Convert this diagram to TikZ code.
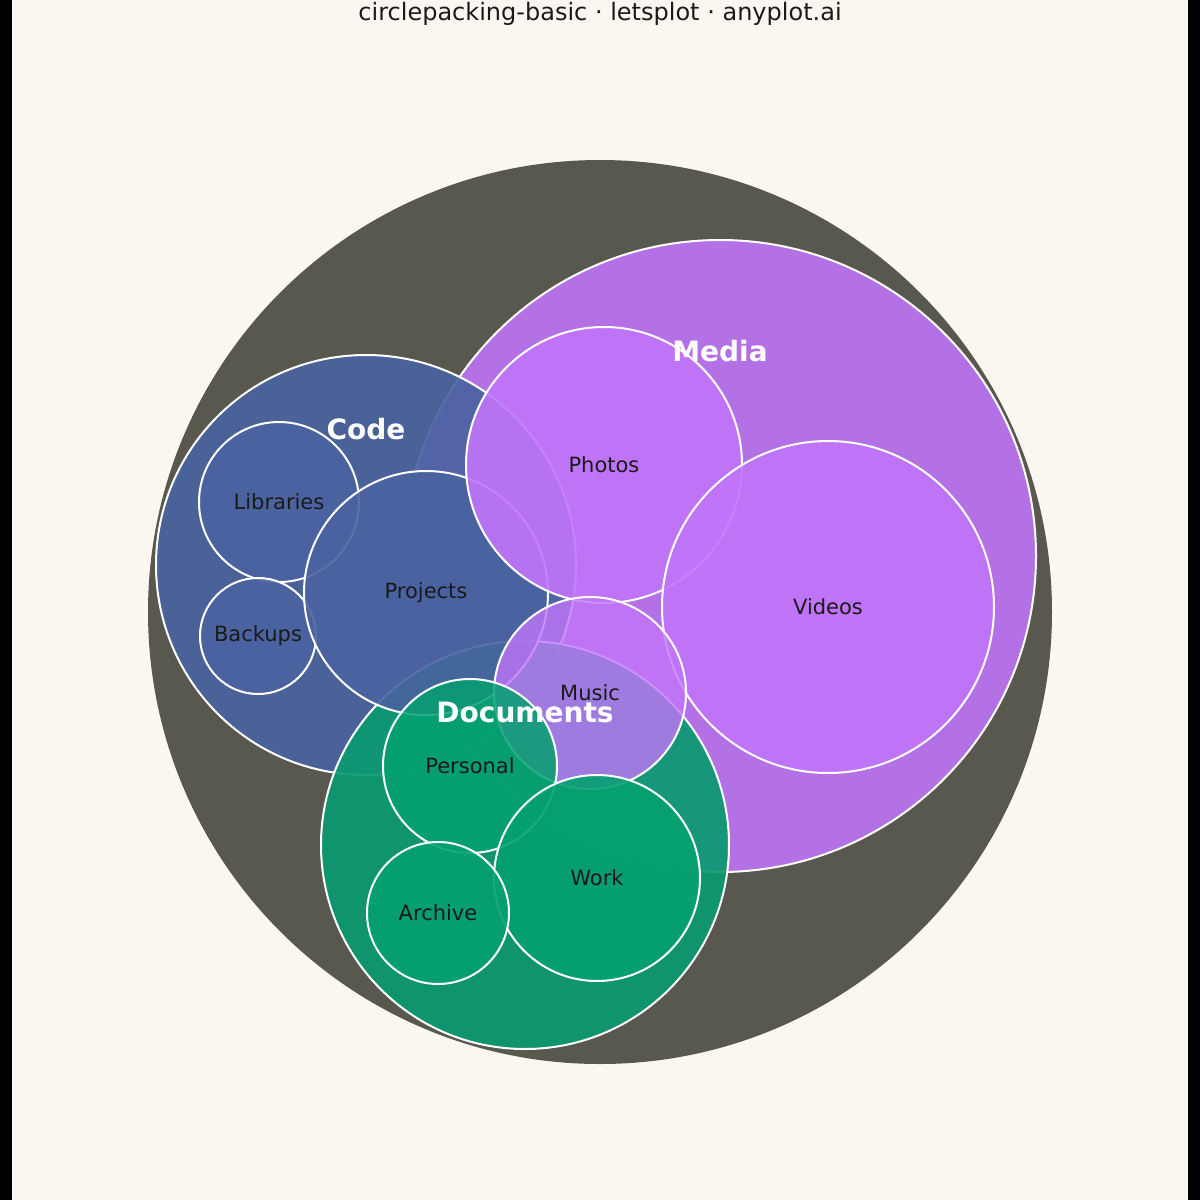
\documentclass[tikz,border=0pt]{standalone}
\usepackage{fontspec}
\setmainfont{DejaVu Sans}
\usetikzlibrary{positioning}
\definecolor{bg}{HTML}{FAF7F0}
\definecolor{rootc}{HTML}{58584F}
\definecolor{mediac}{HTML}{B873EE}
\definecolor{mediak}{HTML}{C175FA}
\definecolor{codec}{HTML}{4A63A0}
\definecolor{docc}{HTML}{0A9A70}
\definecolor{dock}{HTML}{04A070}
\definecolor{ink}{HTML}{1A1A1A}
\tikzset{
  bub/.style={circle, draw=white, line width=1pt, inner sep=0pt},
  grp/.style={text=white, font=\bfseries\fontsize{14}{16}\selectfont},
  leaf/.style={text=ink, font=\fontsize{10.5}{12}\selectfont}
}
\begin{document}
\begin{tikzpicture}[x=0.5pt,y=-0.5pt]
  \fill[bg] (0,0) rectangle (1200,1200);
  \fill[black] (0,0) rectangle (12,1200);
  \fill[black] (1188,0) rectangle (1200,1200);
  \useasboundingbox (0,0) rectangle (1200,1200);
  \node[font=\fontsize{12}{14}\selectfont, text=ink] (title) at (600,14) {circlepacking-basic · letsplot · anyplot.ai};

  % root
  \node[bub, draw=none, fill=rootc, minimum size=452pt] (root) at (600,612) {};

  % groups
  \node[bub, fill=mediac, fill opacity=0.95, minimum size=316pt] (media) at (720,556) {};
  \node[bub, fill=codec, fill opacity=0.92, minimum size=210pt] (code) at (366,565) {};
  \node[bub, fill=docc, fill opacity=0.92, minimum size=204pt] (docs) at (525,845) {};

  % leaves
  \node[bub, fill=codec, fill opacity=0.9, minimum size=80pt] (libs) at (279,502) {};
  \node[bub, fill=codec, fill opacity=0.9, minimum size=58pt] (backups) at (258,636) {};
  \node[bub, fill=codec, fill opacity=0.9, minimum size=122pt] (projects) at (426,593) {};
  \node[bub, fill=mediak, fill opacity=0.9, minimum size=138pt] (photos) at (604,465) {};
  \node[bub, fill=mediak, fill opacity=0.9, minimum size=166pt] (videos) at (828,607) {};
  \node[bub, fill=mediak, fill opacity=0.8, minimum size=96pt] (music) at (590,693) {};
  \node[bub, fill=dock, fill opacity=0.85, minimum size=87pt] (personal) at (470,766) {};
  \node[bub, fill=dock, fill opacity=0.9, minimum size=103pt] (work) at (597,878) {};
  \node[bub, fill=dock, fill opacity=0.9, minimum size=71pt] (archive) at (438,913) {};

  % labels
  \node[leaf] at (photos) {Photos};
  \node[leaf] at (videos) {Videos};
  \node[leaf] at (music) {Music};
  \node[leaf] at (libs) {Libraries};
  \node[leaf] at (backups) {Backups};
  \node[leaf] at (projects) {Projects};
  \node[leaf] at (personal) {Personal};
  \node[leaf] at (work) {Work};
  \node[leaf] at (archive) {Archive};
  \node[grp] at (720,351) {Media};
  \node[grp] at (366,429) {Code};
  \node[grp] at (525,712) {Documents};
\end{tikzpicture}
\end{document}
